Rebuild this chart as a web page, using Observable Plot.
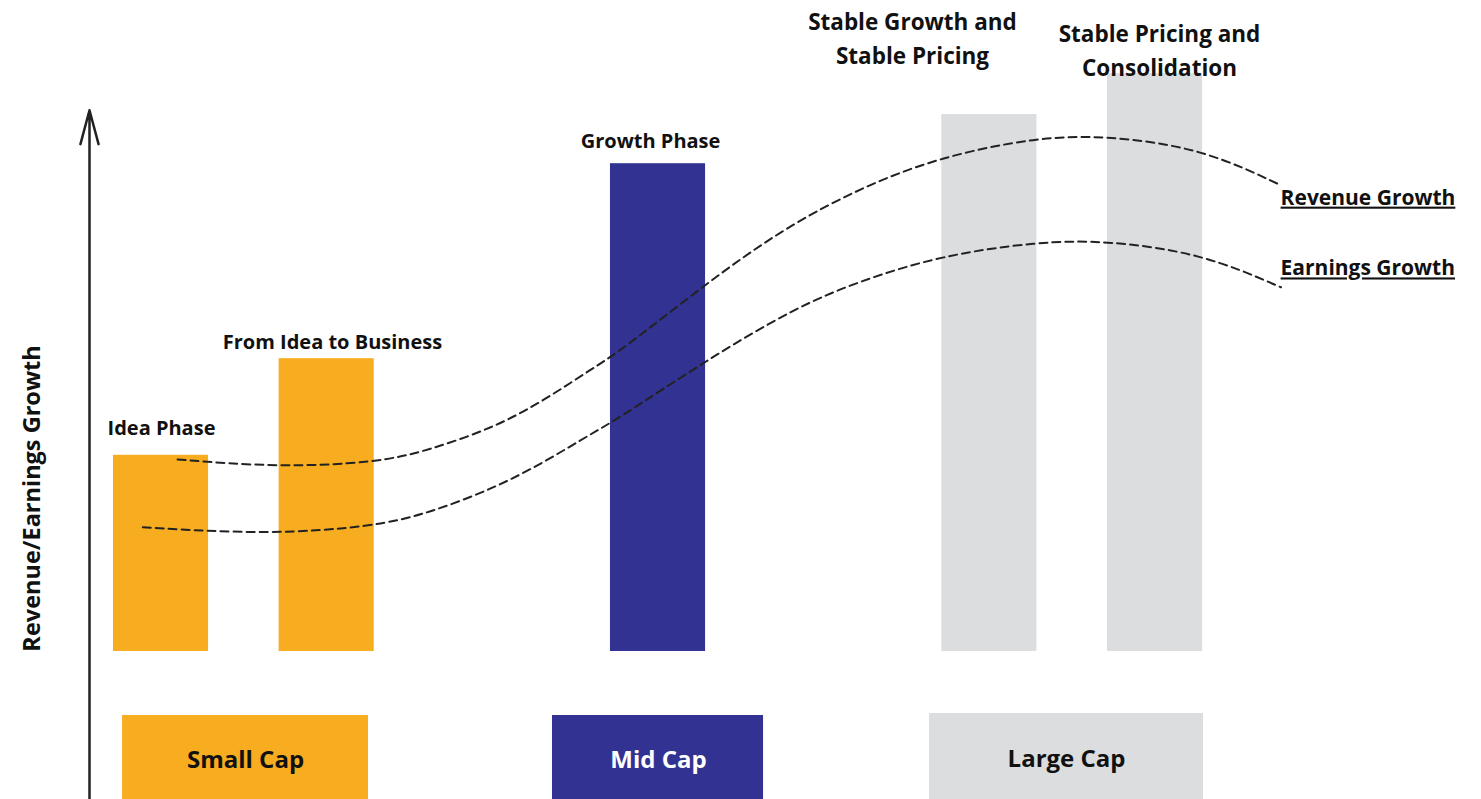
<!DOCTYPE html>
<html>
<head>
<meta charset="utf-8">
<script src="https://cdn.jsdelivr.net/npm/d3@7"></script>
<script src="https://cdn.jsdelivr.net/npm/@observablehq/plot@0.6"></script>
<style>
  html, body { margin: 0; padding: 0; background: #fff; overflow: hidden; }
  #chart svg { display: block; }
  .underline text { text-decoration: underline; }
</style>
</head>
<body>
<div id="chart"></div>
<script>
// ---- Data ----
const stages = ["Idea Phase", "From Idea to Business", "Growth Phase", "Stable Growth and\nStable Pricing", "Stable Pricing and\nConsolidation"];
const stageIndex = [0, 1, 3, 5, 6];
const barValues = [32.7, 48.8, 81.3, 89.5, 96.3];
const stageGroup = ["Small Cap", "Small Cap", "Mid Cap", "Large Cap", "Large Cap"];

const caps = ["Small Cap", "Mid Cap", "Large Cap"];
const capColors = ["#F8AC1F", "#323292", "#DCDDDF"];
const capTextColors = ["#111111", "#ffffff", "#111111"];

const seriesNames = ["Revenue Growth", "Earnings Growth"];
const revenueX = [0.10, 0.70, 1.31, 1.61, 2.01, 2.31, 2.61, 2.76, 3.29, 3.74, 4.22, 4.71, 5.29, 5.71, 6.29, 6.76];
const revenueGrowth = [32.0, 30.7, 31.5, 33.5, 37.3, 41.8, 47.3, 49.8, 61.3, 70.2, 77.3, 82.5, 85.7, 86.0, 83.8, 77.7];
const earningsX = [-0.11, 0.64, 1.28, 1.61, 2.01, 2.31, 2.61, 2.76, 3.29, 3.82, 4.22, 4.71, 5.29, 5.71, 6.29, 6.76];
const earningsGrowth = [20.7, 19.5, 20.8, 23.0, 27.2, 31.5, 36.5, 38.8, 48.5, 57.2, 61.8, 66.0, 68.3, 68.5, 66.3, 60.7];
const axisTitle = "Revenue/Earnings Growth";

// ---- Layout (not data) ----
const W = 1481, H = 799;
const barHalf = 0.287;
const stageLabelPos = [[0.003, 37.2], [1.035, 51.5], [2.955, 85.0], [4.536, 102.5], [6.027, 100.5]];
const stageLabelSize = [20, 20, 20, 22.5, 22.5];
const capBoxes = [[-0.232, 1.2525, -10.67], [2.363, 3.637, -10.67], [4.639, 6.293, -10.33]];
const capLabelPos = [[0.51, -18.2], [3.003, -18.2], [5.466, -17.9]];
const seriesLabelPos = [[6.758, 75.6], [6.758, 63.8]];
const yBottom = -24.67;

// ---- Tables built from the arrays ----
const bars = stages.map((s, i) => ({stage: s, pos: stageIndex[i], value: barValues[i], group: stageGroup[i],
  lx: stageLabelPos[i][0], ly: stageLabelPos[i][1], size: stageLabelSize[i]}));
const capTable = caps.map((c, i) => ({cap: c, x1: capBoxes[i][0], x2: capBoxes[i][1], top: capBoxes[i][2],
  tx: capLabelPos[i][0], ty: capLabelPos[i][1], tcolor: capTextColors[i]}));
const curves = [
  ...revenueGrowth.map((v, j) => ({series: seriesNames[0], x: revenueX[j], y: v})),
  ...earningsGrowth.map((v, j) => ({series: seriesNames[1], x: earningsX[j], y: v}))
];
const seriesLabels = seriesNames.map((n, i) => ({name: n, x: seriesLabelPos[i][0], y: seriesLabelPos[i][1]}));

const font = "'Open Sans', sans-serif";

const chart = Plot.plot({
  width: W,
  height: H,
  margin: 0,
  style: {fontFamily: font, background: "#fff", overflow: "visible"},
  x: {domain: [-0.9688, 7.9706], axis: null},
  y: {domain: [yBottom, 108.5], axis: null},
  color: {domain: caps, range: capColors},
  marks: [
    Plot.rect(bars, {x1: d => d.pos - barHalf, x2: d => d.pos + barHalf, y1: 0, y2: "value", fill: "group"}),
    Plot.rect(capTable, {x1: "x1", x2: "x2", y1: yBottom, y2: "top", fill: "cap"}),
    Plot.line(curves, {x: "x", y: "y", z: "series", stroke: "#222", strokeWidth: 2,
      strokeDasharray: "8,5", curve: "basis"}),
    Plot.text(bars.filter(d => d.size === 20), {x: "lx", y: "ly", text: "stage", fontSize: 20, fontWeight: 700, fill: "#111"}),
    Plot.text(bars.filter(d => d.size !== 20), {x: "lx", y: "ly", text: "stage", fontSize: 22.5, fontWeight: 700, fill: "#111", lineHeight: 1.5}),
    Plot.text(capTable, {x: "tx", y: "ty", text: "cap", fontSize: 24, fontWeight: 700,
      fill: d => d.tcolor}),
    Plot.text(seriesLabels, {x: "x", y: "y", text: "name", fontSize: 21, fontWeight: 700, fill: "#111",
      textAnchor: "start", className: "underline"}),
    Plot.arrow([{x: -0.4316, y1: yBottom, y2: 90.2}], {x1: "x", x2: "x", y1: "y1", y2: "y2",
      stroke: "#222", strokeWidth: 2.5, headLength: 21, headAngle: 30, bend: 0}),
    Plot.text([axisTitle], {x: -0.776, y: 25.5, text: d => d, rotate: -90, fontSize: 23.5, fontWeight: 700, fill: "#111"})
  ]
});
document.getElementById("chart").appendChild(chart);
</script>
</body>
</html>
